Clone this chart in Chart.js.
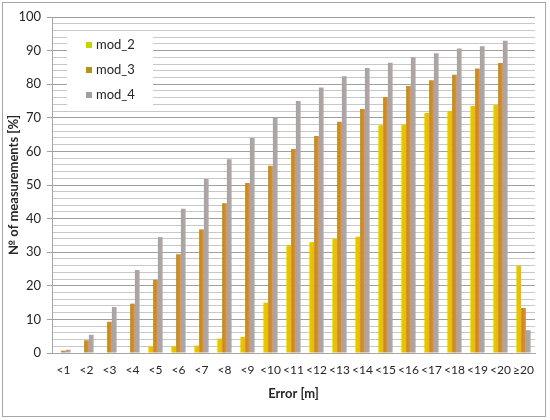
<!DOCTYPE html>
<html lang="en">
<head>
    <meta charset="utf-8">
    <title>Error distribution</title>
    <script src="https://cdn.jsdelivr.net/npm/chart.js@4.4.0/dist/chart.umd.min.js"></script>
    <style>
        body { margin: 0; background: #fff; }
        #wrap { width: 550px; height: 420px; position: relative; }
    </style>
</head>
<body>
    <div id="wrap"><canvas id="chart" width="550" height="420"></canvas></div>
    <script>
        // categories on the x axis
        const labels = ['<1', '<2', '<3', '<4', '<5', '<6', '<7', '<8', '<9', '<10',
            '<11', '<12', '<13', '<14', '<15', '<16', '<17', '<18', '<19', '<20', '≥20'];

        // share of measurements [%] per model
        const mod2 = [0, 0, 0, 0, 2, 2, 2.2, 4.3, 4.8, 15, 32, 33, 34, 34.6, 67.8, 68, 71.4, 72, 73.5, 73.8, 26];
        const mod3 = [0.7, 3.8, 9.3, 14.7, 21.8, 29.4, 36.8, 44.6, 50.6, 55.7, 60.7, 64.6, 68.8, 72.6, 76.2, 79.5, 81.2, 82.8, 84.7, 86.3, 13.4];
        const mod4 = [1, 5.4, 13.7, 24.7, 34.5, 42.9, 51.8, 57.7, 64, 70, 75, 79, 82.4, 84.8, 86.4, 88, 89.2, 90.6, 91.3, 92.9, 6.8];

        const seriesNames = ['mod_2', 'mod_3', 'mod_4'];
        const CAT_PCT = 0.62;
        const FONT = 'Lato';

        // each bar is filled left->right with a gradient, like the excel original
        const barGradient = (from, to) => (c) => {
            const chart = c.chart;
            const area = chart.chartArea;
            if (!area || c.type !== 'data' || !chart.scales.x) return from;
            const catW = area.width / labels.length;
            const slot = catW * CAT_PCT / 3;
            const center = chart.scales.x.getPixelForValue(c.dataIndex);
            const left = center + (c.datasetIndex - 1.5) * slot;
            const g = chart.ctx.createLinearGradient(left, 0, left + slot, 0);
            g.addColorStop(0, from);
            g.addColorStop(1, to);
            return g;
        };

        const swatches = ['#c8d400', '#b8901c', '#a0a0a0'];

        const frame = {
            id: 'frame',
            beforeDraw(chart) {
                const ctx = chart.ctx;
                ctx.save();
                ctx.fillStyle = '#fff';
                ctx.fillRect(0, 0, chart.width, chart.height);
                ctx.strokeStyle = '#a6a6a6';
                ctx.lineWidth = 1;
                ctx.strokeRect(2.5, 2.5, 543, 414);
                ctx.restore();
            }
        };

        const boxLegend = {
            id: 'boxLegend',
            afterDatasetsDraw(chart) {
                const ctx = chart.ctx;
                ctx.save();
                ctx.fillStyle = '#fff';
                ctx.fillRect(67, 32, 86, 78);
                ctx.font = '13px ' + FONT;
                ctx.textBaseline = 'middle';
                seriesNames.forEach((name, i) => {
                    const y = 45 + i * 25;
                    ctx.fillStyle = swatches[i];
                    ctx.fillRect(86, y - 3, 6, 6);
                    ctx.fillStyle = '#262626';
                    ctx.fillText(name, 96, y);
                });
                ctx.restore();
            }
        };

        new Chart(document.getElementById('chart'), {
            type: 'bar',
            data: {
                labels: labels,
                datasets: [
                    { label: seriesNames[0], data: mod2, backgroundColor: barGradient('#d2d400', '#ffb200') },
                    { label: seriesNames[1], data: mod3, backgroundColor: barGradient('#b09020', '#ea8a36') },
                    { label: seriesNames[2], data: mod4, backgroundColor: barGradient('#a4a4a4', '#b4a6a6') }
                ]
            },
            options: {
                responsive: false,
                animation: false,
                layout: { padding: { left: 0, right: 15, top: 17, bottom: 0 } },
                datasets: { bar: { categoryPercentage: CAT_PCT, barPercentage: 1.0 } },
                plugins: {
                    legend: { display: false },
                    tooltip: { enabled: false }
                },
                scales: {
                    x: {
                        grid: { display: false, drawTicks: false },
                        border: { color: '#a6a6a6' },
                        ticks: { color: '#262626', font: { family: FONT, size: 12 }, padding: 10, maxRotation: 0, autoSkip: false },
                        title: { display: true, text: 'Error [m]', color: '#262626', font: { family: FONT, size: 13, weight: 'bold' }, padding: { top: 4, bottom: 18 } },
                        afterFit(scale) { scale.height = 67; }
                    },
                    y: {
                        min: 0,
                        max: 100,
                        ticks: {
                            stepSize: 2,
                            autoSkip: false,
                            color: '#262626',
                            font: { family: FONT, size: 13 },
                            padding: 6,
                            callback: (v) => (v % 10 === 0 ? v : '')
                        },
                        grid: {
                            color: (c) => (c.tick && c.tick.value % 10 === 0 ? '#a0a0a0' : '#c8c8c8'),
                            tickColor: (c) => (c.tick && c.tick.value % 10 === 0 ? '#a0a0a0' : 'rgba(0,0,0,0)'),
                            tickLength: 5
                        },
                        border: { color: '#a6a6a6' },
                        title: { display: true, text: '№ of measurements [%]', color: '#262626', font: { family: FONT, size: 13, weight: 'bold' }, padding: { top: 6, bottom: 0 } },
                        afterFit(scale) { scale.width = 52; }
                    }
                }
            },
            plugins: [frame, boxLegend]
        });
    </script>
</body>
</html>
